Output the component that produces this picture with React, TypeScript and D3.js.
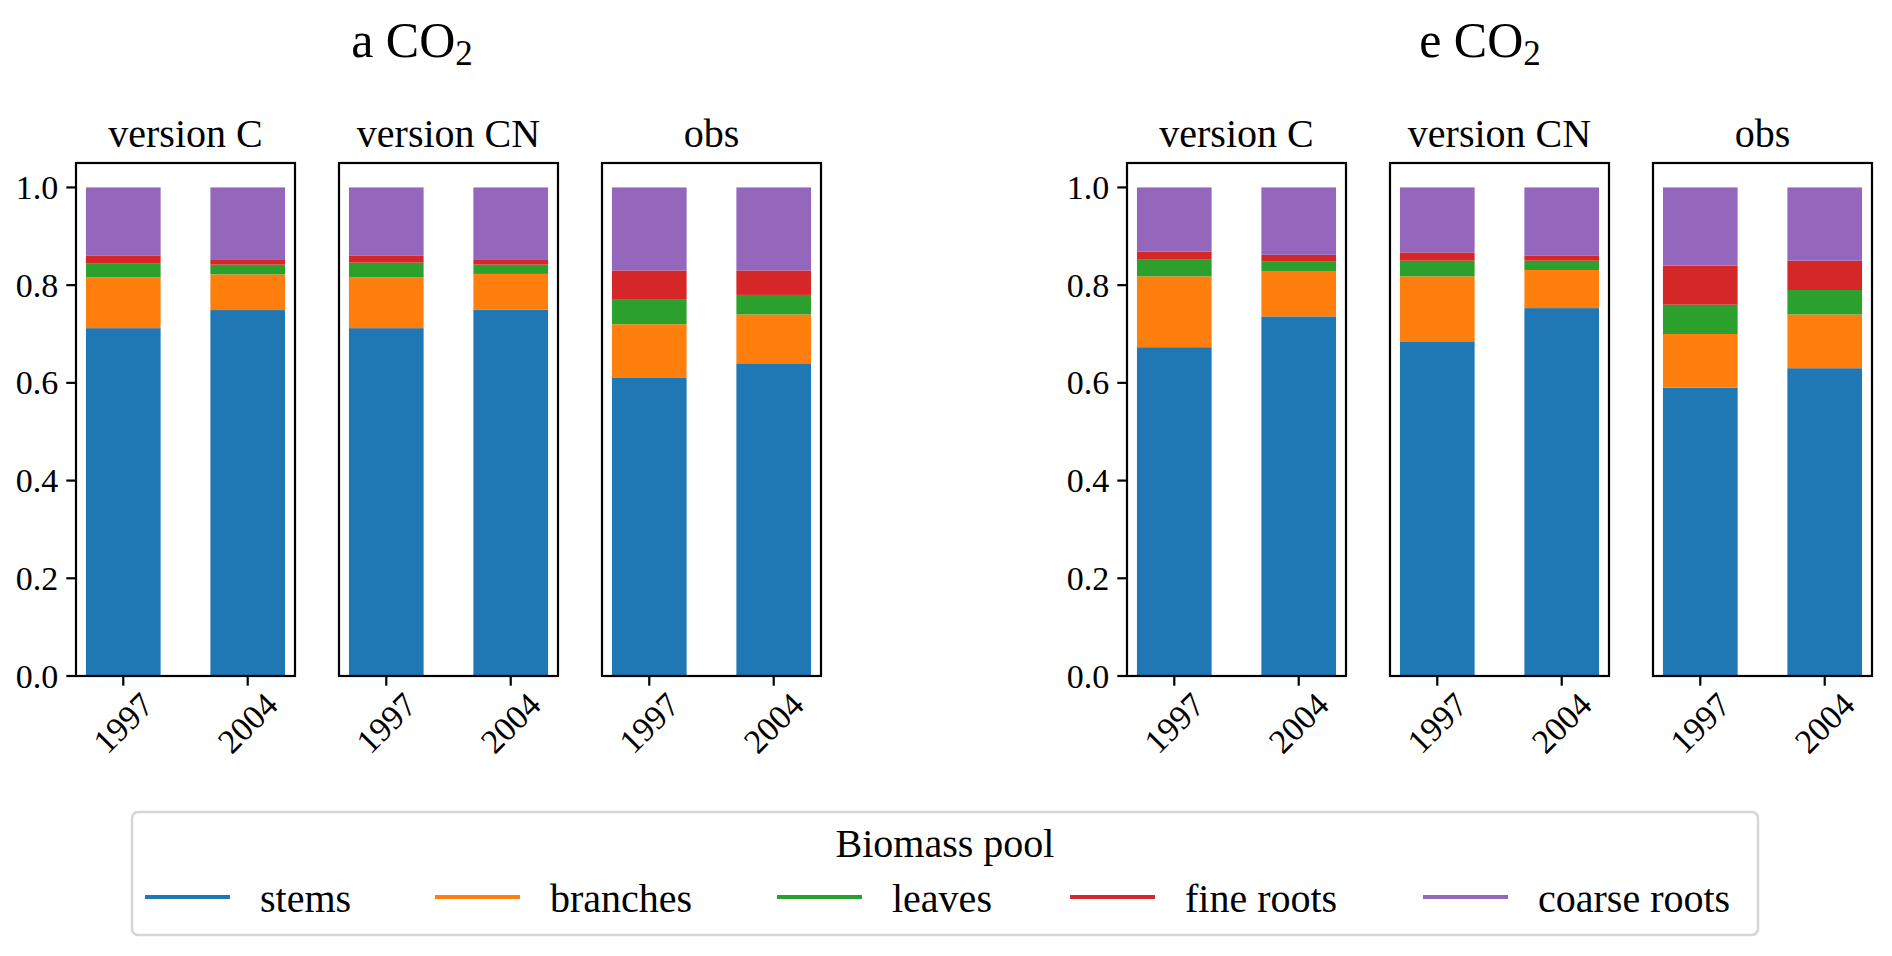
import React from "react";
import * as d3 from "d3";

// ---- data ----
const years = ["1997", "2004"];
const versions = ["version C", "version CN", "obs"];
const pools = ["stems", "branches", "leaves", "fine roots", "coarse roots"];
const poolColors = ["#1f77b4", "#ff7f0e", "#2ca02c", "#d62728", "#9467bd"];
const yTicks = [0, 0.2, 0.4, 0.6, 0.8, 1.0];

// values ordered: vC-1997, vC-2004, vCN-1997, vCN-2004, obs-1997, obs-2004
const ambStems = [0.712, 0.749, 0.712, 0.75, 0.61, 0.64];
const ambBranches = [0.104, 0.073, 0.104, 0.073, 0.11, 0.1];
const ambLeaves = [0.029, 0.02, 0.03, 0.019, 0.05, 0.04];
const ambFineRoots = [0.015, 0.011, 0.014, 0.011, 0.06, 0.05];
const ambCoarseRoots = [0.14, 0.147, 0.14, 0.147, 0.17, 0.17];

const eleStems = [0.673, 0.736, 0.685, 0.753, 0.59, 0.63];
const eleBranches = [0.145, 0.093, 0.133, 0.078, 0.11, 0.11];
const eleLeaves = [0.034, 0.02, 0.032, 0.019, 0.06, 0.05];
const eleFineRoots = [0.017, 0.013, 0.017, 0.01, 0.08, 0.06];
const eleCoarseRoots = [0.131, 0.138, 0.133, 0.14, 0.16, 0.15];

const scenarios = [
  { prefix: "a", series: [ambStems, ambBranches, ambLeaves, ambFineRoots, ambCoarseRoots] },
  { prefix: "e", series: [eleStems, eleBranches, eleLeaves, eleFineRoots, eleCoarseRoots] },
];

// ---- layout ----
const W = 1892;
const H = 956;
const FONT = '"Liberation Serif", "Times New Roman", "DejaVu Serif", serif';
const groupLeft = [76, 1127];
const titleX = [412, 1480];
const panelW = 219;
const panelGap = 44;
const yTop = 163;
const yBottom = 676;
const tickLen = 9.7;
const lw = 2.2;

const legendX = [145, 435, 777, 1070, 1423];

const yScale = d3.scaleLinear().domain([0, 1.05]).range([yBottom, yTop]);

const txt = (size: number): React.CSSProperties => ({ fontFamily: FONT, fontSize: size });

function Panel({ left, vi, series, showY }: any) {
  const x = d3.scaleLinear().domain([-0.38, 1.38]).range([left, left + panelW]);
  const rows = years.map((yr, j) => {
    const r: any = { year: yr };
    pools.forEach((p, k) => (r[p] = series[k][vi * 2 + j]));
    return r;
  });
  const stacked = d3.stack().keys(pools)(rows);
  const bw = x(0.6) - x(0);
  return (
    <g>
      {stacked.map((layer: any, k: number) => (
        <g key={k} fill={poolColors[k]}>
          {layer.map((d: any, j: number) => (
            <rect
              key={j}
              x={x(j) - bw / 2}
              width={bw}
              y={yScale(d[1])}
              height={yScale(d[0]) - yScale(d[1])}
            />
          ))}
        </g>
      ))}
      <rect
        x={left}
        y={yTop}
        width={panelW}
        height={yBottom - yTop}
        fill="none"
        stroke="#000"
        strokeWidth={lw}
      />
      {years.map((yr, j) => (
        <g key={yr}>
          <line x1={x(j)} x2={x(j)} y1={yBottom} y2={yBottom + tickLen} stroke="#000" strokeWidth={lw} />
          <text
            transform={`translate(${x(j)},${yBottom + 47}) rotate(-45)`}
            textAnchor="middle"
            dominantBaseline="central"
            style={txt(34)}
          >
            {yr}
          </text>
        </g>
      ))}
      {showY &&
        yTicks.map((t) => (
          <g key={t}>
            <line x1={left - tickLen} x2={left} y1={yScale(t)} y2={yScale(t)} stroke="#000" strokeWidth={lw} />
            <text
              x={left - tickLen - 8}
              y={yScale(t)}
              textAnchor="end"
              dominantBaseline="central"
              style={txt(34)}
            >
              {t.toFixed(1)}
            </text>
          </g>
        ))}
      <text x={(left + left + panelW) / 2} y={147} textAnchor="middle" style={txt(40)}>
        {versions[vi]}
      </text>
    </g>
  );
}

export default function App() {
  return (
    <svg
      width={W}
      height={H}
      viewBox={`0 0 ${W} ${H}`}
      style={{ position: "absolute", left: 0, top: 0, background: "#fff" }}
    >
      <rect x={0} y={0} width={W} height={H} fill="#fff" />
      {scenarios.map((sc, gi) => (
        <g key={gi}>
          <text x={titleX[gi]} y={57} textAnchor="middle" style={txt(50)}>
            {sc.prefix + " CO"}
            <tspan style={{ fontSize: 35 }} dy={8}>2</tspan>
          </text>
          {versions.map((v, vi) => (
            <Panel
              key={v}
              left={groupLeft[gi] + vi * (panelW + panelGap)}
              vi={vi}
              series={sc.series}
              showY={vi === 0}
            />
          ))}
        </g>
      ))}
      <g>
        <rect x={132} y={812} width={1626} height={123} rx={6} fill="#fff" stroke="#d6d6d6" strokeWidth={2.5} />
        <text x={945} y={857} textAnchor="middle" style={txt(40)}>
          Biomass pool
        </text>
        {pools.map((p, k) => (
          <g key={p}>
            <line x1={legendX[k]} x2={legendX[k] + 85} y1={897} y2={897} stroke={poolColors[k]} strokeWidth={4.2} />
            <text x={legendX[k] + 115} y={912} style={txt(40)}>
              {p}
            </text>
          </g>
        ))}
      </g>
    </svg>
  );
}
